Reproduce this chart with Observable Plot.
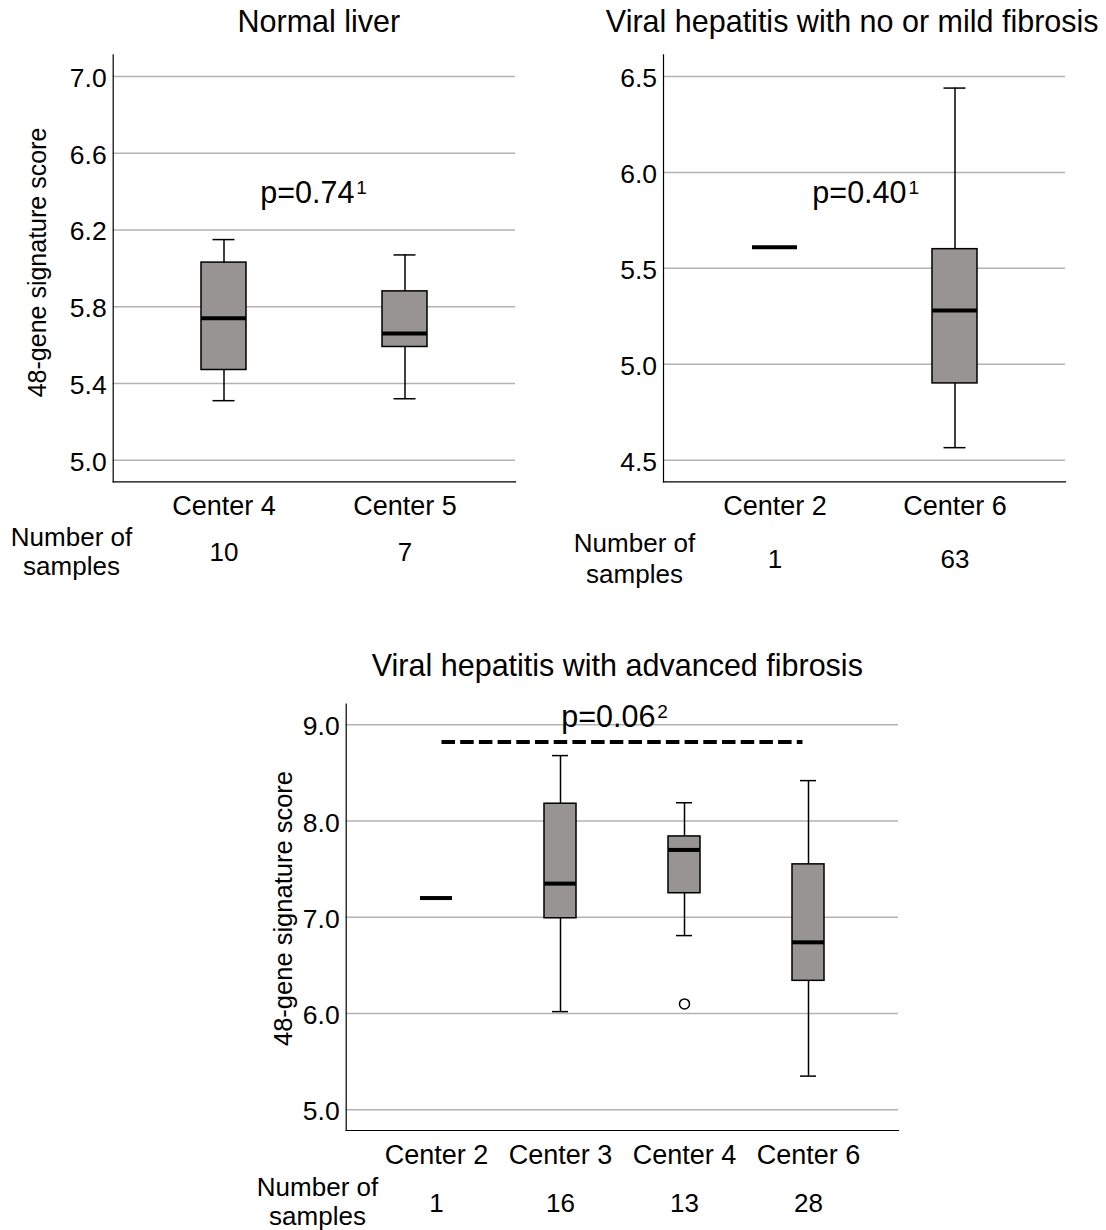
<!DOCTYPE html>
<html>
<head>
<meta charset="utf-8">
<script src="https://cdn.jsdelivr.net/npm/d3@7"></script>
<script src="https://cdn.jsdelivr.net/npm/@observablehq/plot@0.6"></script>
<style>
  html, body { margin: 0; padding: 0; background: #fff; }
  #figure { position: relative; width: 1106px; height: 1230px; overflow: hidden; }
  #figure > div { position: absolute; }
  #figure svg { overflow: visible; }
</style>
</head>
<body>
<div id="figure"></div>
<script>
// ---- Normal liver ----
const normalCenters = ["Center 4", "Center 5"];
const normalCounts = [10, 7];
const normalLow = [5.31, 5.32];
const normalQ1 = [5.47, 5.59];
const normalMedian = [5.74, 5.66];
const normalQ3 = [6.03, 5.88];
const normalHigh = [6.15, 6.07];
const normalTicks = [5.0, 5.4, 5.8, 6.2, 6.6, 7.0];

// ---- Viral hepatitis, no or mild fibrosis (Center 2 has a single sample) ----
const mildCenters = ["Center 2", "Center 6"];
const mildCounts = [1, 63];
const mildLow = [null, 4.565];
const mildQ1 = [null, 4.90];
const mildMedian = [5.61, 5.28];
const mildQ3 = [null, 5.60];
const mildHigh = [null, 6.44];
const mildTicks = [4.5, 5.0, 5.5, 6.0, 6.5];

// ---- Viral hepatitis, advanced fibrosis (Center 2 has a single sample) ----
const advCenters = ["Center 2", "Center 3", "Center 4", "Center 6"];
const advCounts = [1, 16, 13, 28];
const advLow = [null, 6.02, 6.81, 5.35];
const advQ1 = [null, 6.99, 7.25, 6.34];
const advMedian = [7.20, 7.35, 7.70, 6.74];
const advQ3 = [null, 8.18, 7.84, 7.55];
const advHigh = [null, 8.68, 8.19, 8.42];
const advOutlierCenters = ["Center 4"];
const advOutlierValues = [6.10];
const advTicks = [5.0, 6.0, 7.0, 8.0, 9.0];
const advBracket = {from: "Center 2", to: "Center 6", y: 8.82};

const yLabel = "48-gene signature score";
const samplesLabel = "Number of\nsamples";

const fontFamily = '"Liberation Sans", Arial, Helvetica, sans-serif';
const gridColor = "#b3b3b3";
const boxFill = "#989494";

// One box-plot panel; all pixel offsets in p are relative to the panel's own SVG.
function boxPanel(p) {
  const rows = p.centers.map((center, i) => ({
    center,
    n: p.counts[i],
    low: p.low[i],
    q1: p.q1[i],
    median: p.median[i],
    q3: p.q3[i],
    high: p.high[i]
  }));
  const boxes = rows.filter(d => d.q1 != null);
  const outliers = (p.outlierCenters || []).map((center, i) => ({center, value: p.outlierValues[i]}));
  const m = p.margin;
  const frameBottom = p.height - m.bottom;
  const frameMiddle = (m.top + frameBottom) / 2;

  const marks = [
    Plot.gridY(p.ticks, {stroke: gridColor, strokeOpacity: 1, strokeWidth: 1.5}),
    // whiskers and caps
    Plot.ruleX(boxes, {x: "center", y1: "low", y2: "q1", stroke: "black", strokeWidth: 1.5}),
    Plot.ruleX(boxes, {x: "center", y1: "q3", y2: "high", stroke: "black", strokeWidth: 1.5}),
    Plot.tickY(boxes, {x: "center", y: "low", insetLeft: p.capInset, insetRight: p.capInset, stroke: "black", strokeWidth: 1.5}),
    Plot.tickY(boxes, {x: "center", y: "high", insetLeft: p.capInset, insetRight: p.capInset, stroke: "black", strokeWidth: 1.5}),
    // interquartile boxes
    Plot.barY(boxes, {x: "center", y1: "q1", y2: "q3", fill: boxFill, stroke: "black", strokeWidth: 1.5}),
    // medians (or the single value when n = 1)
    Plot.tickY(rows, {x: "center", y: "median", stroke: "black", strokeWidth: 4}),
    Plot.dot(outliers, {x: "center", y: "value", r: 5, fill: "white", stroke: "black", strokeWidth: 1.5}),
    // axis lines
    Plot.frame({anchor: "left", stroke: "black", strokeWidth: 1.2}),
    Plot.frame({anchor: "bottom", stroke: "black", strokeWidth: 1.2}),
    Plot.axisY(p.ticks, {tickSize: 0, tickPadding: 6.5, tickFormat: d3.format(".1f"), fontSize: 26.5, label: null, dy: 2}),
    Plot.axisX({tickSize: 0, tickPadding: 14, fontSize: 27, label: null}),
    // sample counts under each center
    Plot.text(rows, {x: "center", text: d => String(d.n), frameAnchor: "bottom", dy: p.countBaseline - frameBottom, lineAnchor: "bottom", fontSize: 26}),
    Plot.text([samplesLabel], {text: d => d, frameAnchor: "bottom-left", dx: p.samplesX - m.left, dy: p.samplesBaseline - frameBottom, lineAnchor: "bottom", textAnchor: "middle", lineHeight: p.samplesLineHeight / 26, fontSize: 26}),
    // panel title
    Plot.text([p.title], {text: d => d, frameAnchor: "top", dx: p.titleDx, dy: p.titleBaseline - m.top, lineAnchor: "bottom", fontSize: 30.5}),
    // test result with its footnote marker
    Plot.text([p.pText], {text: d => d, y: p.pY, dx: p.pDx, textAnchor: "end", lineAnchor: "bottom", fontSize: 30.5}),
    Plot.text([p.pNote], {text: d => d, y: p.pY, dx: p.pDx + 2, dy: -9, textAnchor: "start", lineAnchor: "bottom", fontSize: 19})
  ];
  if (p.showYLabel) {
    marks.push(Plot.text([yLabel], {text: d => d, frameAnchor: "left", rotate: -90, dx: p.yLabelX - m.left, dy: p.yLabelY - frameMiddle, textAnchor: "middle", lineAnchor: "middle", fontSize: p.yLabelSize}));
  }
  if (p.bracket) {
    marks.push(Plot.ruleY([p.bracket], {x1: "from", x2: "to", y: "y", insetLeft: 21.5, insetRight: 21.5, stroke: "black", strokeWidth: 4, strokeDasharray: "13.5,5.2"}));
  }

  const chart = Plot.plot({
    width: p.width,
    height: p.height,
    marginTop: m.top,
    marginRight: m.right,
    marginBottom: m.bottom,
    marginLeft: m.left,
    style: {fontFamily, fontSize: "26px", color: "black", background: "none", overflow: "visible"},
    x: {type: "band", domain: p.centers, paddingInner: p.paddingInner, paddingOuter: p.paddingOuter, align: 0.5},
    y: {domain: p.domain, nice: false},
    marks
  });
  const holder = document.createElement("div");
  holder.style.left = p.left + "px";
  holder.style.top = p.top + "px";
  holder.appendChild(chart);
  document.getElementById("figure").appendChild(holder);
}

boxPanel({
  title: "Normal liver", titleDx: 4.5, titleBaseline: 31,
  centers: normalCenters, counts: normalCounts,
  low: normalLow, q1: normalQ1, median: normalMedian, q3: normalQ3, high: normalHigh,
  ticks: normalTicks, domain: [4.887, 7.113],
  pText: "p=0.74", pNote: "1", pY: 6.34, pDx: 40,
  left: 0, top: 0, width: 530, height: 600,
  margin: {top: 54.4, right: 15, bottom: 118.7, left: 112.7},
  paddingInner: 0.75, paddingOuter: 0.486, capInset: 11.5,
  countBaseline: 560, samplesX: 71, samplesBaseline: 574, samplesLineHeight: 29,
  showYLabel: true, yLabelX: 37.3, yLabelY: 262, yLabelSize: 25
});

boxPanel({
  title: "Viral hepatitis with no or mild fibrosis", titleDx: -12.3, titleBaseline: 31,
  centers: mildCenters, counts: mildCounts,
  low: mildLow, q1: mildQ1, median: mildMedian, q3: mildQ3, high: mildHigh,
  ticks: mildTicks, domain: [4.387, 6.613],
  pText: "p=0.40", pNote: "1", pY: 5.84, pDx: 42,
  left: 560, top: 0, width: 546, height: 600,
  margin: {top: 54.4, right: 41, bottom: 118.7, left: 103},
  paddingInner: 0.75, paddingOuter: 0.486, capInset: 11.5,
  countBaseline: 567, samplesX: 74, samplesBaseline: 582, samplesLineHeight: 31,
  showYLabel: false
});

boxPanel({
  title: "Viral hepatitis with advanced fibrosis", titleDx: -5, titleBaseline: 45,
  centers: advCenters, counts: advCounts,
  low: advLow, q1: advQ1, median: advMedian, q3: advQ3, high: advHigh,
  outlierCenters: advOutlierCenters, outlierValues: advOutlierValues,
  ticks: advTicks, domain: [4.785, 9.215],
  pText: "p=0.06", pNote: "2", pY: 8.972, pDx: 33,
  bracket: advBracket,
  left: 230, top: 630, width: 700, height: 600,
  margin: {top: 73.6, right: 32, bottom: 100, left: 115.7},
  paddingInner: 0.743, paddingOuter: 0.5915, capInset: 8,
  countBaseline: 581, samplesX: 87, samplesBaseline: 594, samplesLineHeight: 29,
  showYLabel: true, yLabelX: 53.3, yLabelY: 278, yLabelSize: 25.5
});
</script>
</body>
</html>
